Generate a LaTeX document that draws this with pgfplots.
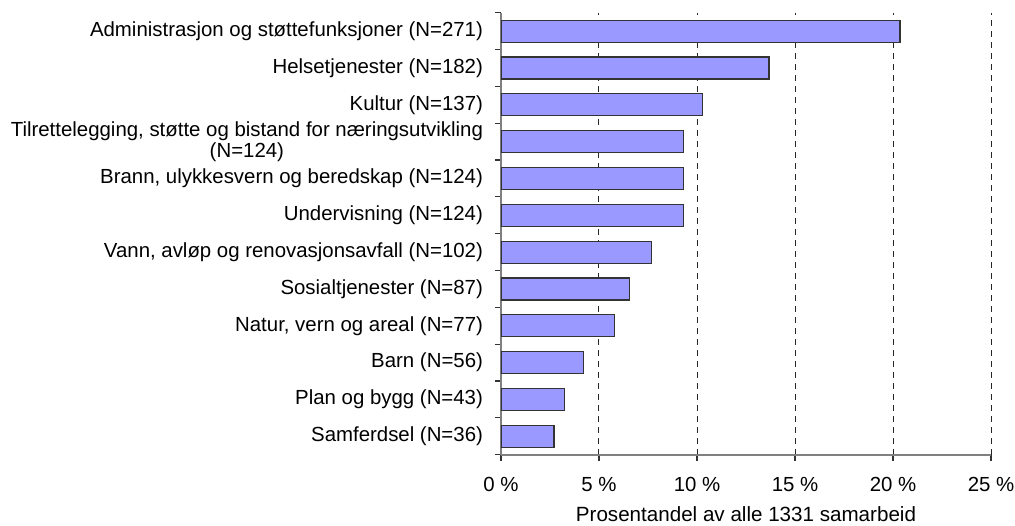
\documentclass[border=0pt]{standalone}
\usepackage{pgfplots}
\pgfplotsset{compat=1.18}
\usepackage{fontspec}
\setmainfont{Liberation Sans}
\definecolor{barfill}{HTML}{9999FF}
\definecolor{axcol}{HTML}{808080}
\begin{document}
\begin{tikzpicture}
\useasboundingbox (-250.5pt,-35.5pt) rectangle (257pt,227.35pt);
\begin{axis}[
  at={(0,0)}, anchor=south west,
  scale only axis, width=245pt, height=221pt,
  xbar, bar width=11pt,
  xmin=0, xmax=25, ymin=-0.5, ymax=11.5,
  axis x line*=bottom, axis y line*=left,
  axis line style={draw=axcol, line width=0.8pt},
  xtick={0,5,10,15,20,25},
  xticklabels={0 \%,5 \%,10 \%,15 \%,20 \%,25 \%},
  ytick={0,...,11},
  yticklabels={
    {Samferdsel (N=36)},
    {Plan og bygg (N=43)},
    {Barn (N=56)},
    {Natur, vern og areal (N=77)},
    {Sosialtjenester (N=87)},
    {Vann, avløp og renovasjonsavfall (N=102)},
    {Undervisning (N=124)},
    {Brann, ulykkesvern og beredskap (N=124)},
    {Tilrettelegging, støtte og bistand for næringsutvikling\\(N=124)},
    {Kultur (N=137)},
    {Helsetjenester (N=182)},
    {Administrasjon og støttefunksjoner (N=271)}},
  minor ytick={-0.5,0.5,...,11.5},
  tick align=outside, major tick length=3pt, minor tick length=3pt,
  major y tick style={draw=none},
  minor y tick style={draw=black!80, line width=0.6pt},
  major x tick style={draw=black!80, line width=0.6pt},
  xmajorgrids,
  grid style={black!85, dash pattern=on 3pt off 2.5pt, line width=0.5pt},
  yticklabel style={align=center, font=\fontsize{10.2}{10.4}\selectfont, xshift=-2.5pt},
  xticklabel style={anchor=base, yshift=-15.5pt, font=\fontsize{10.2}{12}\selectfont},
  xlabel={Prosentandel av alle 1331 samarbeid},
  xlabel style={at={(axis description cs:0.5,0)}, anchor=base, yshift=-33.5pt, font=\fontsize{10.3}{12}\selectfont},
]
\addplot[fill=barfill, draw=black!80, line width=0.6pt] coordinates {
  (2.70,0) (3.23,1) (4.21,2) (5.79,3) (6.54,4) (7.66,5)
  (9.32,6) (9.32,7) (9.32,8) (10.29,9) (13.67,10) (20.36,11)
};
\end{axis}
\end{tikzpicture}
\end{document}
